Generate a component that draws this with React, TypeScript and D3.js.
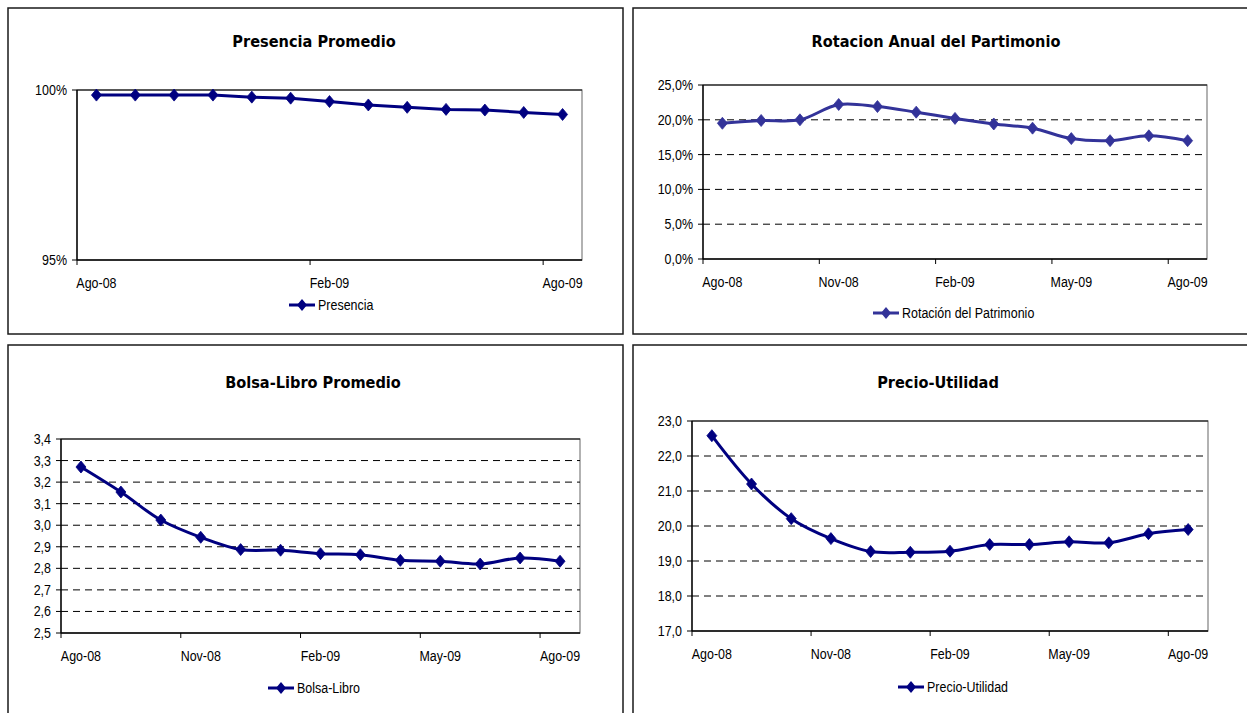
import React from "react";
import * as d3 from "d3";

// ---------- data ----------
const months = ["Ago-08", "Sep-08", "Oct-08", "Nov-08", "Dic-08", "Ene-09", "Feb-09", "Mar-09", "Abr-09", "May-09", "Jun-09", "Jul-09", "Ago-09"];

const presencia = [99.85, 99.85, 99.85, 99.85, 99.79, 99.76, 99.66, 99.56, 99.49, 99.43, 99.41, 99.34, 99.28];
const rotacion = [19.5, 19.9, 20.0, 22.2, 21.9, 21.1, 20.2, 19.4, 18.8, 17.3, 17.0, 17.7, 17.0];
const bolsaLibro = [3.27, 3.154, 3.024, 2.944, 2.887, 2.884, 2.868, 2.863, 2.837, 2.833, 2.82, 2.848, 2.833];
const precioUtilidad = [22.58, 21.2, 20.21, 19.64, 19.27, 19.25, 19.28, 19.47, 19.47, 19.55, 19.52, 19.78, 19.9];

const presenciaTicks = [95, 100];
const rotacionTicks = [0, 5, 10, 15, 20, 25];
const bolsaTicks = [2.5, 2.6, 2.7, 2.8, 2.9, 3.0, 3.1, 3.2, 3.3, 3.4];
const precioTicks = [17, 18, 19, 20, 21, 22, 23];

const titles = ["Presencia Promedio", "Rotacion Anual del Partimonio", "Bolsa-Libro Promedio", "Precio-Utilidad"];
const legendNames = ["Presencia", "Rotación del Patrimonio", "Bolsa-Libro", "Precio-Utilidad"];

// ---------- layout ----------
const NAVY = "#000080";
const PURPLE = "#333399";
const FONT = "'Liberation Sans', Arial, sans-serif";
const TITLE_FONT = "'DejaVu Sans', Tahoma, sans-serif";

const fmtPct0 = (v: number) => `${v}%`;
const fmtPct1 = (v: number) => `${v.toFixed(1).replace(".", ",")}%`;
const fmt1 = (v: number) => v.toFixed(1).replace(".", ",");

const panels = [
  {
    frame: { x: 8, y: 8, w: 615, h: 326 },
    titleX: 314, titleY: 47,
    plot: { x: 77, y: 90, w: 505, h: 170 },
    data: presencia, ticks: presenciaTicks, fmt: fmtPct0,
    labelEvery: 6, color: NAVY, dashed: false, smooth: false,
    legendX: 289, legendY: 305,
  },
  {
    frame: { x: 633, y: 8, w: 640, h: 326 },
    titleX: 936, titleY: 47,
    plot: { x: 703, y: 85, w: 504, h: 174 },
    data: rotacion, ticks: rotacionTicks, fmt: fmtPct1,
    labelEvery: 3, color: PURPLE, dashed: true, smooth: true,
    legendX: 873, legendY: 313,
  },
  {
    frame: { x: 8, y: 345, w: 615, h: 400 },
    titleX: 313, titleY: 388,
    plot: { x: 61, y: 439, w: 519, h: 194 },
    data: bolsaLibro, ticks: bolsaTicks, fmt: fmt1,
    labelEvery: 3, color: NAVY, dashed: true, smooth: true,
    legendX: 268, legendY: 688,
  },
  {
    frame: { x: 633, y: 345, w: 640, h: 400 },
    titleX: 938, titleY: 388,
    plot: { x: 692, y: 421, w: 516, h: 210 },
    data: precioUtilidad, ticks: precioTicks, fmt: fmt1,
    labelEvery: 3, color: NAVY, dashed: true, smooth: true,
    legendX: 898, legendY: 687,
  },
];

const diamond = "M0,-6L5,0L0,6L-5,0Z";

function Label({ x, y, anchor, children, size = 14.5, sx = 0.86 }: any) {
  return (
    <text
      transform={`translate(${x},${y}) scale(${sx},1)`}
      textAnchor={anchor}
      fontFamily={FONT}
      fontSize={size}
      fill="#000"
    >
      {children}
    </text>
  );
}

function Panel({ p, idx }: any) {
  const { plot } = p;
  const x = d3.scaleBand<string>().domain(months).range([plot.x, plot.x + plot.w]).padding(0);
  const y = d3
    .scaleLinear()
    .domain([p.ticks[0], p.ticks[p.ticks.length - 1]])
    .range([plot.y + plot.h, plot.y]);
  const bw = x.bandwidth();
  const cx = (m: string) => (x(m) as number) + bw / 2;
  const line = d3
    .line<number>()
    .x((_, i) => cx(months[i]))
    .y((d) => y(d))
    .curve(p.smooth ? d3.curveCatmullRom.alpha(0.5) : d3.curveLinear);
  const labeled = months.filter((_, i) => i % p.labelEvery === 0);
  const bottom = plot.y + plot.h;
  const right = plot.x + plot.w;

  return (
    <g>
      <rect x={p.frame.x} y={p.frame.y} width={p.frame.w} height={p.frame.h} fill="#fff" stroke="#1a1a1a" strokeWidth={1.5} />
      <text
        transform={`translate(${p.titleX},${p.titleY}) scale(0.97,1.05)`}
        textAnchor="middle"
        fontFamily={TITLE_FONT}
        fontWeight="bold"
        fontSize={15}
        fill="#000"
      >
        {titles[idx]}
      </text>
      {/* plot area border */}
      <rect x={plot.x} y={plot.y} width={plot.w} height={plot.h} fill="#fff" stroke="#7f7f7f" strokeWidth={1.2} />
      {/* gridlines */}
      {p.ticks.slice(1).map((t: number, i: number) => {
        const isTop = i === p.ticks.length - 2;
        return (
          <line
            key={t}
            x1={plot.x}
            x2={right}
            y1={y(t)}
            y2={y(t)}
            stroke="#000"
            strokeWidth={isTop ? 1.2 : 1}
            strokeDasharray={isTop || !p.dashed ? undefined : "7,5"}
          />
        );
      })}
      {/* y axis */}
      <line x1={plot.x} x2={plot.x} y1={plot.y} y2={bottom} stroke="#000" strokeWidth={1.4} />
      {p.ticks.map((t: number) => (
        <g key={t}>
          <line x1={plot.x - 5} x2={plot.x} y1={y(t)} y2={y(t)} stroke="#000" strokeWidth={1} />
          <Label x={plot.x - 10} y={y(t) + 5} anchor="end">
            {p.fmt(t)}
          </Label>
        </g>
      ))}
      {/* x axis */}
      <line x1={plot.x} x2={right} y1={bottom} y2={bottom} stroke="#000" strokeWidth={1.4} />
      {labeled.map((m) => (
        <g key={m}>
          <line x1={x(m)} x2={x(m)} y1={bottom} y2={bottom + 5} stroke="#000" strokeWidth={1} />
          <Label x={cx(m)} y={bottom + 28} anchor="middle">
            {m}
          </Label>
        </g>
      ))}
      {/* series */}
      <path d={line(p.data) || ""} fill="none" stroke={p.color} strokeWidth={3} strokeLinejoin="round" />
      {p.data.map((v: number, i: number) => (
        <path key={i} d={diamond} transform={`translate(${cx(months[i])},${y(v)})`} fill={p.color} stroke={p.color} strokeWidth={0.8} />
      ))}
      {/* legend */}
      <line x1={p.legendX} x2={p.legendX + 26} y1={p.legendY} y2={p.legendY} stroke={p.color} strokeWidth={3} />
      <path d={diamond} transform={`translate(${p.legendX + 13},${p.legendY})`} fill={p.color} />
      <Label x={p.legendX + 29} y={p.legendY + 5} anchor="start">
        {legendNames[idx]}
      </Label>
    </g>
  );
}

export default function App() {
  return (
    <svg
      width={1247}
      height={713}
      style={{ position: "absolute", left: 0, top: 0, display: "block", background: "#fff" }}
    >
      <rect x={0} y={0} width={1247} height={713} fill="#fff" />
      {panels.map((p, i) => (
        <Panel key={i} p={p} idx={i} />
      ))}
    </svg>
  );
}
